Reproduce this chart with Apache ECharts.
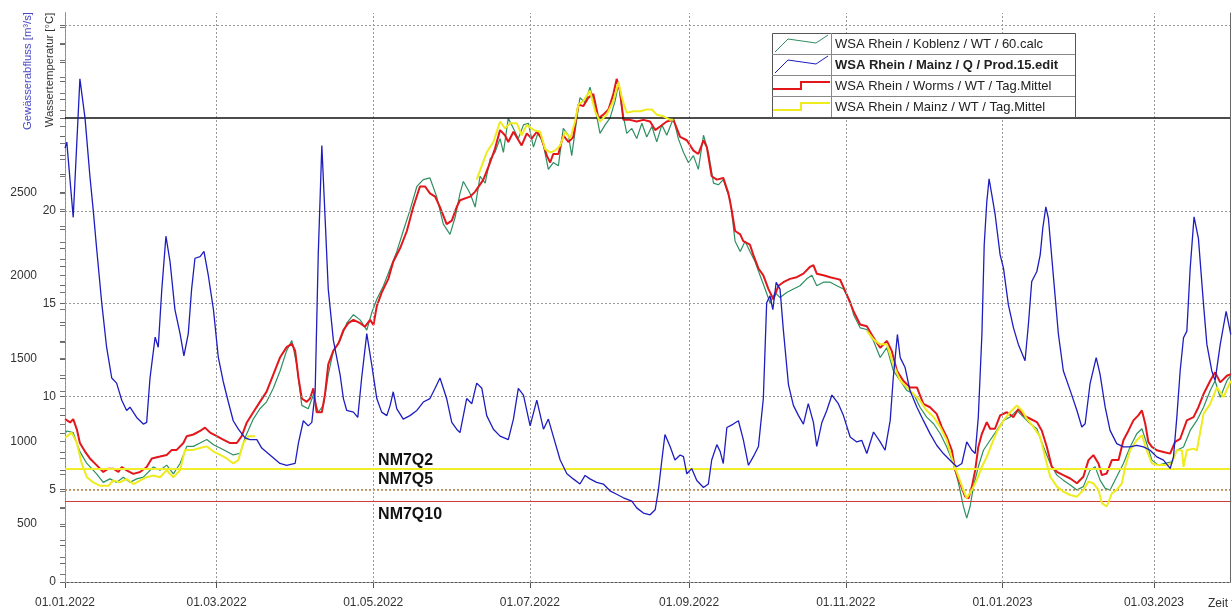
<!DOCTYPE html>
<html>
<head>
<meta charset="utf-8">
<script src="https://cdn.jsdelivr.net/npm/echarts@6/dist/echarts.min.js"></script>
<style>
  html, body { margin: 0; padding: 0; background: #fff; }
  #chart { width: 1232px; height: 609px; }
</style>
</head>
<body>
<div id="chart"></div>
<script>
// Days are counted from 01.01.2022.
const dateTicks = [0, 59, 120, 181, 243, 304, 365, 424];
const tempLabelTicks = [0, 5, 10, 15, 20];
const flowLabelTicks = [500, 1000, 1500, 2000, 2500];

// Abfluss Mainz [m³/s]
const mainzFlow = [
[0,2770],[0.7,2806],[3.2,2352],[5.8,3188],[7.8,2951],[9.7,2600],[11.0,2394],[12.3,2167],[14.3,1836],[16.2,1568],[18.2,1382],[20.1,1351],[22.1,1248],[24.0,1186],[25.3,1206],[27.9,1144],[30.5,1104],[31.8,1114],[33.1,1382],[35.1,1629],[36.3,1568],[37.7,1919],[39.3,2238],[40.9,2084],[42.8,1795],[44.8,1650],[46.3,1516],[48.0,1650],[49.3,1919],[50.6,2105],[52.6,2115],[54.1,2146],[55.8,2001],[57.8,1795],[59.7,1506],[61.6,1361],[63.6,1237],[65.5,1124],[67.5,1073],[70.1,1021],[72.0,1010],[74.7,1010],[76.6,959],[79.8,917],[83.7,866],[86.3,855],[89.6,866],[90.9,990],[92.8,1124],[94.7,1093],[96.1,1114],[97.4,1299],[98.6,2125],[100.0,2786],[101.2,2373],[102.5,1919],[104.5,1609],[107.1,1403],[108.4,1258],[109.7,1186],[112.3,1176],[114.0,1144],[115.5,1382],[117.5,1650],[119.4,1465],[121.4,1258],[123.3,1176],[125.3,1155],[126.6,1217],[127.8,1299],[129.2,1196],[131.7,1134],[134.3,1155],[137.0,1186],[139.5,1237],[142.1,1258],[144.1,1320],[146.0,1382],[148.6,1258],[150.6,1114],[152.5,1073],[153.8,1052],[156.4,1258],[158.4,1227],[160.3,1351],[162.3,1320],[164.2,1155],[166.8,1073],[169.4,1031],[172.6,1010],[174.6,1134],[176.5,1320],[178.5,1279],[181.1,1093],[183.7,1248],[186.3,1073],[188.2,1134],[190.1,1031],[192.8,887],[195.4,804],[197.9,773],[200.5,742],[202.5,794],[204.4,773],[207.0,752],[209.6,742],[212.2,701],[214.8,680],[217.4,659],[220.7,639],[222.6,598],[225.2,567],[227.8,556],[229.8,587],[231.0,701],[232.4,887],[233.6,1041],[235.6,969],[237.5,887],[239.5,917],[240.8,907],[242.1,804],[244.0,835],[246.0,763],[248.6,721],[250.5,742],[251.8,887],[253.8,980],[255.1,938],[256.3,866],[257.7,1083],[260.2,1104],[262.2,1124],[264.1,1010],[266.1,855],[268.0,907],[270.0,969],[271.9,1258],[273.2,1836],[274.5,1878],[275.6,1795],[276.9,1960],[278.4,1919],[279.7,1671],[281.7,1340],[283.6,1217],[285.6,1155],[287.5,1104],[289.4,1227],[291.4,1114],[292.7,969],[294.7,1114],[296.6,1186],[298.6,1279],[301.1,1227],[303.1,1155],[305.7,1026],[308.3,996],[310.2,1006],[312.2,926],[314.8,1056],[317.4,996],[319.3,946],[321.3,1126],[322.5,1385],[324.1,1645],[325.2,1505],[327.1,1445],[329.0,1306],[331.7,1206],[334.2,1126],[336.8,1046],[339.4,976],[342.0,926],[344.6,886],[347.2,846],[349.2,866],[351.1,996],[353.1,946],[354.4,926],[355.6,1146],[357.0,1645],[357.9,2185],[358.9,2445],[359.8,2585],[360.9,2484],[362.1,2375],[364.1,2125],[365.4,2045],[367.3,1825],[369.3,1685],[371.2,1585],[373.8,1486],[375.1,1705],[376.4,1965],[378.4,2025],[379.7,2125],[380.7,2285],[381.9,2415],[382.9,2345],[384.9,1985],[386.8,1645],[388.7,1426],[391.4,1306],[394.0,1186],[395.9,1086],[397.2,1106],[399.1,1346],[401.5,1505],[403.0,1405],[405.0,1206],[406.9,1066],[409.5,986],[412.1,966],[414.7,966],[417.3,976],[419.9,966],[422.5,946],[425.1,906],[427.7,886],[430.3,836],[431.6,906],[432.9,1146],[434.2,1426],[435.5,1625],[436.8,1665],[438.1,2045],[439.6,2355],[441.3,2225],[443.3,1825],[444.6,1585],[446.5,1426],[447.8,1366],[449.8,1585],[452.1,1785],[453.9,1645]
];

// Wassertemperatur Koblenz [°C]
const koblenzTemp = [
[0,8.0],[0.7,8.14],[3.2,8.05],[5.8,7.03],[8.5,6.39],[12.3,5.83],[14.9,5.37],[17.5,5.56],[20.1,5.37],[22.7,5.65],[25.3,5.37],[27.9,5.56],[30.5,5.65],[34.4,6.2],[37.0,6.02],[39.6,6.3],[42.2,5.83],[44.8,6.39],[47.4,7.31],[50.0,7.31],[52.6,7.49],[55.2,7.68],[57.8,7.4],[60.4,7.22],[63.0,7.03],[65.5,6.85],[68.2,6.94],[70.1,7.77],[73.3,8.78],[75.9,9.34],[78.5,9.71],[81.1,10.44],[83.7,11.36],[86.3,12.47],[88.3,13.02],[90.2,11.73],[92.2,9.52],[94.7,9.34],[96.7,10.08],[98.6,9.15],[100.6,9.52],[102.5,11.18],[104.5,12.47],[107.1,13.02],[109.7,13.95],[112.3,14.41],[114.9,14.13],[117.5,13.58],[119.4,14.5],[121.4,15.24],[124.0,15.97],[126.6,16.9],[129.2,17.82],[131.7,18.92],[134.3,20.03],[137.0,21.32],[139.5,21.69],[142.1,21.78],[144.7,20.77],[147.3,19.29],[149.9,18.74],[151.9,19.66],[153.8,20.95],[155.1,21.59],[157.7,20.95],[159.7,20.21],[161.6,21.87],[163.6,21.5],[165.5,22.79],[167.4,23.16],[169.4,23.9],[170.7,23.16],[172.6,25.0],[174.6,24.45],[176.5,23.9],[178.5,24.64],[180.4,24.73],[182.4,23.44],[184.3,24.27],[186.3,23.53],[188.2,22.24],[190.1,22.61],[192.1,22.43],[194.0,24.45],[196.0,24.08],[197.3,22.98],[199.3,25.0],[200.5,26.11],[202.5,25.83],[204.4,26.67],[206.4,25.56],[208.3,24.18],[210.3,24.64],[212.2,25.0],[214.2,25.93],[215.5,26.85],[216.8,25.56],[218.7,24.18],[220.7,24.45],[222.6,23.9],[224.6,24.73],[226.5,23.99],[228.5,24.55],[230.4,23.72],[232.4,24.64],[234.3,24.08],[236.9,25.0],[238.8,23.9],[240.8,23.16],[242.7,22.61],[244.7,22.98],[246.6,22.24],[248.6,24.08],[250.5,23.16],[252.5,21.5],[254.4,21.41],[256.3,21.69],[259.0,20.58],[260.9,18.37],[262.9,17.82],[264.8,18.37],[266.7,17.82],[268.7,17.26],[270.6,16.53],[272.6,15.79],[274.5,15.05],[276.5,15.6],[278.4,15.33],[281.0,15.6],[283.6,15.79],[286.2,15.97],[288.8,16.34],[290.8,16.53],[292.7,15.97],[295.3,16.16],[297.9,16.16],[300.5,15.97],[303.1,15.79],[305.7,15.14],[307.0,14.42],[309.6,13.7],[312.2,13.61],[314.8,12.99],[317.4,12.1],[320.0,12.63],[322.5,11.39],[325.2,10.85],[327.8,10.32],[330.4,10.13],[332.9,9.42],[335.5,8.89],[338.2,8.53],[340.8,7.99],[343.3,7.28],[345.9,6.39],[347.9,5.32],[349.8,4.07],[351.1,3.44],[352.4,4.07],[353.7,5.14],[355.6,6.21],[357.6,7.1],[360.2,7.64],[362.8,8.17],[365.4,8.71],[368.0,8.89],[370.6,9.25],[373.2,8.89],[375.8,8.53],[378.4,8.26],[381.0,7.28],[383.6,6.39],[386.2,5.76],[388.7,5.49],[391.4,5.23],[394.0,4.96],[396.5,5.14],[399.1,6.03],[401.1,6.21],[403.0,5.49],[405.0,5.05],[406.9,4.96],[409.5,5.67],[412.1,6.39],[414.7,7.28],[417.3,7.99],[419.3,8.26],[421.2,7.46],[423.2,6.57],[425.7,6.3],[428.3,6.39],[430.9,6.48],[432.9,7.1],[435.5,7.28],[438.1,8.17],[440.7,8.71],[443.3,9.42],[445.9,10.32],[447.8,10.85],[449.8,9.96],[452.4,10.85],[453.9,11.12]
];

// Wassertemperatur Worms, Tagesmittel [°C]
const wormsTemp = [
[0,8.78],[2.0,8.6],[3.2,8.78],[4.6,8.23],[5.8,7.49],[7.8,7.03],[9.7,6.66],[12.3,6.3],[14.9,5.93],[16.9,6.11],[18.8,6.11],[20.8,5.93],[22.1,6.2],[24.0,6.02],[26.6,5.83],[29.2,5.93],[31.8,6.2],[33.8,6.66],[37.0,6.76],[39.6,6.85],[41.6,7.12],[43.5,7.12],[46.1,7.49],[47.4,7.86],[50.0,7.95],[52.6,8.14],[54.5,8.32],[56.5,8.05],[59.1,7.86],[61.6,7.68],[64.3,7.49],[66.9,7.49],[68.8,7.86],[70.8,8.6],[73.3,9.15],[75.9,9.71],[78.5,10.26],[81.1,11.18],[83.7,12.1],[86.3,12.66],[88.3,12.84],[89.6,12.47],[90.9,11.0],[92.2,9.89],[94.1,9.71],[95.4,9.89],[96.7,10.44],[98.0,9.15],[100.0,9.15],[101.2,10.08],[102.5,11.73],[104.5,12.47],[106.4,12.84],[108.4,13.58],[110.3,13.95],[112.3,14.13],[114.9,13.95],[116.8,13.76],[118.8,14.13],[120.1,13.85],[121.4,14.87],[123.3,15.6],[125.9,16.34],[127.8,17.26],[130.5,18.0],[133.1,18.92],[135.6,20.21],[138.2,21.32],[140.2,21.32],[142.1,20.95],[144.1,20.77],[146.0,20.21],[148.6,19.29],[150.6,19.48],[152.5,20.21],[153.8,20.58],[157.7,20.77],[159.7,21.04],[162.9,21.69],[165.5,22.61],[167.4,23.35],[169.4,24.36],[171.3,24.08],[172.6,23.72],[174.6,24.27],[177.8,23.53],[179.8,24.18],[181.7,23.9],[183.7,24.27],[185.6,23.9],[187.6,22.98],[188.9,22.61],[190.1,23.07],[192.1,23.07],[194.0,24.08],[196.0,23.72],[197.9,23.99],[199.9,25.74],[201.8,25.65],[203.8,26.11],[205.7,26.3],[207.7,25.0],[209.6,25.19],[211.6,25.47],[213.5,26.3],[214.8,27.12],[216.1,26.48],[217.4,24.91],[220.0,24.91],[222.6,24.82],[225.2,24.91],[227.8,24.82],[229.8,24.36],[231.7,24.55],[234.3,24.82],[236.9,24.91],[239.5,23.99],[242.1,23.81],[244.7,23.25],[246.6,23.07],[248.6,23.81],[249.9,23.44],[251.8,21.87],[253.8,21.69],[256.3,21.78],[258.3,20.95],[259.6,20.03],[260.9,18.92],[262.9,18.74],[264.1,18.37],[266.7,18.18],[268.0,17.63],[270.0,16.9],[271.9,16.53],[273.9,15.79],[275.8,15.24],[277.8,15.97],[279.7,16.16],[282.3,16.34],[284.9,16.43],[287.5,16.62],[290.1,16.99],[291.4,17.08],[292.7,16.62],[295.3,16.53],[297.9,16.43],[300.5,16.34],[301.8,16.29],[304.4,15.49],[307.0,14.6],[309.6,13.88],[312.2,13.79],[314.8,13.17],[317.4,12.63],[320.0,12.99],[321.9,12.46],[323.9,11.39],[326.4,10.85],[329.0,10.49],[331.7,10.49],[334.2,9.6],[336.8,9.42],[339.4,9.06],[341.4,8.35],[343.3,7.82],[345.3,7.1],[346.6,6.03],[348.5,5.32],[350.5,4.6],[351.8,4.51],[353.1,5.14],[354.4,6.03],[355.6,7.28],[357.0,7.99],[358.9,8.62],[360.2,8.26],[362.1,8.26],[364.1,8.98],[366.7,9.15],[369.3,8.89],[371.2,9.33],[373.2,8.98],[375.8,8.8],[378.4,8.62],[380.3,8.17],[382.3,7.28],[384.2,6.21],[386.2,5.94],[388.7,5.76],[391.4,5.58],[394.0,5.32],[396.5,5.67],[398.5,6.57],[400.4,6.84],[402.4,6.39],[403.7,5.76],[405.6,5.85],[407.6,6.57],[410.2,6.57],[412.1,7.64],[414.1,8.17],[416.0,8.71],[417.9,8.98],[419.3,9.25],[420.6,8.53],[421.8,7.55],[423.2,7.28],[425.1,7.1],[427.7,7.01],[430.3,6.92],[432.2,7.55],[434.2,7.72],[436.8,8.71],[439.4,8.89],[441.3,9.42],[443.3,10.13],[445.9,10.85],[447.8,11.3],[449.8,10.76],[452.4,11.12],[453.9,11.2]
];

// Wassertemperatur Mainz, Tagesmittel [°C] ('-' = keine Werte)
const mainzTemp = [
[0,7.77],[2.6,8.05],[4.6,7.49],[6.5,6.39],[8.5,5.65],[11.0,5.37],[13.6,5.19],[16.9,5.19],[18.8,5.47],[21.4,5.37],[24.0,5.56],[26.6,5.28],[29.2,5.47],[31.8,5.65],[34.4,5.74],[37.0,5.65],[39.6,6.02],[42.2,5.65],[44.8,6.02],[46.7,7.12],[50.0,7.12],[52.6,7.22],[55.2,7.31],[57.8,7.03],[60.4,6.85],[63.0,6.66],[65.5,6.39],[67.5,6.57],[69.4,7.49],[71.4,7.86],[74.0,7.86],[74.5,'-'],
[160.3,21.69],[164.2,23.16],[166.8,23.72],[169.4,24.82],[171.3,24.45],[173.3,24.73],[175.9,24.73],[177.8,24.08],[179.8,24.64],[182.4,24.36],[185.0,24.27],[186.9,23.35],[188.9,23.16],[190.8,23.25],[192.8,23.53],[194.7,24.27],[196.7,23.9],[198.6,24.82],[199.9,25.74],[201.8,25.93],[204.4,26.48],[206.4,25.37],[208.3,24.82],[210.9,25.19],[213.5,25.93],[215.5,26.94],[216.8,26.11],[218.7,25.29],[221.3,25.37],[223.9,25.37],[226.5,25.47],[228.5,25.47],[230.4,25.19],[233.0,25.1],[235.6,24.91],[236.9,24.91],[237.4,'-'],
[312.2,13.53],[314.8,13.08],[317.4,12.81],[320.0,12.81],[322.5,11.74],[325.2,10.85],[327.8,10.49],[330.4,10.14],[332.9,9.78],[335.5,9.24],[338.2,8.89],[340.8,8.35],[343.3,7.64],[345.9,6.39],[347.9,5.67],[349.8,4.96],[351.1,4.51],[353.1,4.96],[355.0,5.49],[357.0,6.21],[358.9,6.74],[360.9,7.46],[362.8,8.08],[365.4,8.71],[368.0,9.15],[370.6,9.51],[372.6,9.24],[374.5,8.8],[377.1,8.35],[379.7,7.82],[381.6,6.74],[383.6,5.67],[386.2,5.14],[388.7,4.87],[391.4,4.69],[394.0,4.6],[396.5,4.96],[398.5,5.41],[400.4,5.32],[402.4,4.96],[403.7,4.25],[405.6,4.07],[407.6,4.78],[409.5,4.96],[411.5,5.32],[412.8,6.21],[414.7,7.1],[417.3,7.64],[419.3,7.91],[421.2,7.1],[423.2,6.39],[425.7,6.3],[428.3,6.3],[430.9,6.39],[432.9,7.1],[434.9,7.1],[435.5,6.21],[436.8,7.1],[439.4,7.19],[440.7,7.1],[443.3,9.06],[445.9,9.6],[448.5,10.49],[451.1,9.96],[453.9,10.85]
];

// Niedrigwasser-Kennwerte NM7Q [m³/s]
const nm7qNames = ['NM7Q2', 'NM7Q5', 'NM7Q10'];
const nm7qValues = [834, 710, 640];

// Temperatur-Grenzlinie [°C]
const tempLimit = 25;

const legendNames = [
  'WSA Rhein / Koblenz / WT / 60.calc',
  'WSA Rhein / Mainz / Q / Prod.15.edit',
  'WSA Rhein / Worms / WT / Tag.Mittel',
  'WSA Rhein / Mainz / WT / Tag.Mittel'
];

const FONT = '"Liberation Sans", Arial, sans-serif';
const C_BLUE = '#1d1dc0';
const C_GREEN = '#2e8f62';
const C_RED = '#e3161b';
const C_YELLOW = '#eeec1e';
const C_GRID = '#9a9a9a';

const X_MIN = 0, X_MAX = 453.6;
const T_MIN = 0, T_MAX = 30.67;
const Q_MIN = 150.5, Q_MAX = 3585.6;

function pad(n) { return (n < 10 ? '0' : '') + n; }
function dayLabel(d) {
  const dt = new Date(2022, 0, 1 + Math.round(d));
  return pad(dt.getDate()) + '.' + pad(dt.getMonth() + 1) + '.' + dt.getFullYear();
}

const tempTicks = [];
for (let t = 0; t <= 30; t += 1) tempTicks.push(t);
const flowTicks = [];
for (let q = 200; q <= 3500; q += 100) flowTicks.push(q);

const hGrid = [0, 5, 10, 15, 20, 30];

const chart = echarts.init(document.getElementById('chart'), null, { renderer: 'canvas' });

const option = {
  animation: false,
  backgroundColor: '#ffffff',
  textStyle: { fontFamily: FONT },
  grid: { left: 65, right: 2, top: 13, bottom: 23, containLabel: false },
  xAxis: [
    {
      type: 'value', min: X_MIN, max: X_MAX, position: 'bottom', offset: 3,
      axisLine: { show: true, lineStyle: { color: '#555', width: 1 } },
      axisTick: { show: true, customValues: dateTicks, length: 6, inside: false, lineStyle: { color: '#555' } },
      axisLabel: { customValues: dateTicks, formatter: v => dayLabel(v), color: '#333', fontSize: 12, margin: 12, fontFamily: FONT },
      splitLine: { show: false }
    },
    {
      type: 'value', min: X_MIN, max: X_MAX, position: 'top',
      axisLine: { show: true, lineStyle: { color: '#555', width: 1 } },
      axisTick: { show: false }, axisLabel: { show: false }, splitLine: { show: false }
    }
  ],
  yAxis: [
    {
      type: 'value', min: T_MIN, max: T_MAX, position: 'left',
      axisLine: { show: true, lineStyle: { color: '#555', width: 1 } },
      axisTick: { show: true, customValues: tempTicks, length: 5, lineStyle: { color: '#666' } },
      axisLabel: { customValues: tempLabelTicks, formatter: v => String(v), color: '#333', fontSize: 12, margin: 9, fontFamily: FONT },
      splitLine: { show: false }
    },
    {
      type: 'value', min: Q_MIN, max: Q_MAX, position: 'left', offset: 22,
      axisLine: { show: true, lineStyle: { color: '#888', width: 1 } },
      axisTick: { show: true, customValues: flowTicks, length: 5, lineStyle: { color: '#777' } },
      axisLabel: { customValues: flowLabelTicks, formatter: v => String(v), color: '#333', fontSize: 12, margin: 6, fontFamily: FONT },
      splitLine: { show: false }
    },
    {
      type: 'value', min: T_MIN, max: T_MAX, position: 'right',
      axisLine: { show: true, lineStyle: { color: '#666', width: 1 } },
      axisTick: { show: false }, axisLabel: { show: false }, splitLine: { show: false }
    }
  ],
  series: [
    {
      // dotted grid
      name: 'grid', type: 'line', data: [], xAxisIndex: 0, yAxisIndex: 0, z: 1,
      markLine: {
        silent: true, symbol: ['none', 'none'], animation: false,
        label: { show: false },
        lineStyle: { color: C_GRID, width: 1, type: [2, 2] },
        data: hGrid.map(v => ({ yAxis: v })).concat(dateTicks.map(v => ({ xAxis: v })))
      }
    },
    {
      name: 'limits', type: 'line', data: [], xAxisIndex: 0, yAxisIndex: 1, z: 2,
      markLine: {
        silent: true, symbol: ['none', 'none'], animation: false,
        label: { show: false },
        data: [
          { yAxis: nm7qValues[0], lineStyle: { color: '#f0ee2a', width: 2, type: 'solid' } },
          { yAxis: nm7qValues[1], lineStyle: { color: '#b98c4c', width: 1.5, type: [2, 2] } },
          { yAxis: nm7qValues[2], lineStyle: { color: '#d23a3a', width: 1, type: 'solid' } }
        ]
      }
    },
    {
      name: 'limitT', type: 'line', data: [], xAxisIndex: 0, yAxisIndex: 0, z: 2,
      markLine: {
        silent: true, symbol: ['none', 'none'], animation: false,
        label: { show: false },
        data: [{ yAxis: tempLimit, lineStyle: { color: '#111', width: 1.5, type: 'solid' } }]
      }
    },
    {
      name: legendNames[0], type: 'line', data: koblenzTemp, xAxisIndex: 0, yAxisIndex: 0,
      showSymbol: false, z: 3, lineStyle: { color: C_GREEN, width: 1.2 }
    },
    {
      name: legendNames[2], type: 'line', data: wormsTemp, xAxisIndex: 0, yAxisIndex: 0,
      showSymbol: false, z: 4, lineStyle: { color: C_RED, width: 2 }
    },
    {
      name: legendNames[3], type: 'line', data: mainzTemp, xAxisIndex: 0, yAxisIndex: 0,
      showSymbol: false, connectNulls: false, z: 5, lineStyle: { color: C_YELLOW, width: 2 }
    },
    {
      name: legendNames[1], type: 'line', data: mainzFlow, xAxisIndex: 0, yAxisIndex: 1,
      showSymbol: false, z: 6, lineStyle: { color: C_BLUE, width: 1.3 }
    }
  ]
};

chart.setOption(option);

// Legend table
const LX = 772, LY = 33, LW = 303, RH = 21, LC = 831;
const legendEls = [
  { type: 'rect', shape: { x: LX + 0.5, y: LY + 0.5, width: LW, height: RH * 4 }, style: { fill: '#fff', stroke: '#555', lineWidth: 1 }, z: 100 }
];
for (let i = 1; i < 4; i++) {
  legendEls.push({ type: 'line', shape: { x1: LX, y1: LY + RH * i + 0.5, x2: LX + LW, y2: LY + RH * i + 0.5 }, style: { stroke: '#888', lineWidth: 1 }, z: 101 });
}
legendEls.push({ type: 'line', shape: { x1: LC + 0.5, y1: LY, x2: LC + 0.5, y2: LY + RH * 4 }, style: { stroke: '#888', lineWidth: 1 }, z: 101 });
const iconColors = [C_GREEN, C_BLUE, C_RED, C_YELLOW];
for (let i = 0; i < 4; i++) {
  const top = LY + RH * i;
  let pts;
  if (i < 2) {
    pts = [[LX + 3, top + 19], [LX + 16, top + 6], [LX + 44, top + 10], [LX + 56, top + 2]];
  } else {
    pts = [[LX + 1, top + 14], [LX + 29, top + 14], [LX + 29, top + 7], [LX + 58, top + 7]];
  }
  legendEls.push({ type: 'polyline', shape: { points: pts }, style: { stroke: iconColors[i], lineWidth: i < 2 ? 1 : 2, fill: null }, z: 102 });
  legendEls.push({
    type: 'text', x: LC + 4, y: top + RH / 2 + 1, z: 102,
    style: { text: legendNames[i], fill: '#222', font: (i === 1 ? 'bold ' : '') + '13px ' + FONT, verticalAlign: 'middle' }
  });
}

// Axis titles
const titleEls = [
  { type: 'text', x: 28, y: 71, rotation: Math.PI / 2, z: 100,
    style: { text: 'Gewässerabfluss [m³/s]', fill: '#4a4ac8', font: '11.3px ' + FONT, align: 'center', verticalAlign: 'middle' } },
  { type: 'text', x: 50, y: 70, rotation: Math.PI / 2, z: 100,
    style: { text: 'Wassertemperatur [°C]', fill: '#333', font: '11.3px ' + FONT, align: 'center', verticalAlign: 'middle' } },
  { type: 'text', x: 1208, y: 604, z: 100,
    style: { text: 'Zeit t', fill: '#333', font: '12px ' + FONT, align: 'left', verticalAlign: 'middle' } }
];

// NM7Q labels placed from the flow axis
const labelX = chart.convertToPixel({ xAxisIndex: 0 }, 121.9);
const labelShift = [-8, -9.5, 13.5];
const nmEls = nm7qNames.map((name, i) => ({
  type: 'text', x: labelX, y: chart.convertToPixel({ yAxisIndex: 1 }, nm7qValues[i]) + labelShift[i], z: 50,
  style: { text: name, fill: '#111', font: 'bold 16px ' + FONT, align: 'left', verticalAlign: 'middle' }
}));

chart.setOption({ graphic: { elements: legendEls.concat(titleEls, nmEls) } });
</script>
</body>
</html>
